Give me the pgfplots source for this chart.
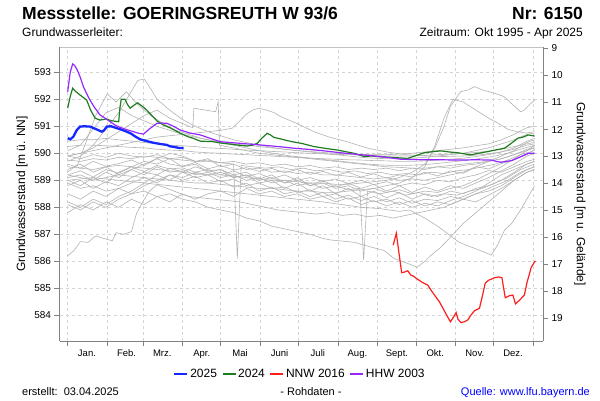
\documentclass[border=0pt]{standalone}
\usepackage{fontspec}
\setmainfont{Liberation Sans}
\usepackage{pgfplots}
\pgfplotsset{compat=1.18}
\definecolor{cA}{RGB}{20,40,255}
\definecolor{cB}{RGB}{30,125,30}
\definecolor{cN}{RGB}{255,30,30}
\definecolor{cH}{RGB}{150,40,255}
\definecolor{cgray}{RGB}{178,178,178}
\definecolor{cgrid}{RGB}{212,212,212}
\definecolor{caxis}{RGB}{130,130,130}
\definecolor{ctop}{RGB}{195,195,195}
\definecolor{csrc}{RGB}{0,0,255}
\begin{document}
\begin{tikzpicture}[x=1pt,y=1pt]
\useasboundingbox (0,0) rectangle (600,400);
\node[anchor=base west,inner sep=0,font=\fontsize{17.5}{20}\selectfont\bfseries] at (22,380.5) {Messstelle: GOERINGSREUTH W 93/6};
\node[anchor=base east,inner sep=0,font=\fontsize{17.5}{20}\selectfont\bfseries] at (583,380.5) {Nr: 6150};
\node[anchor=base west,inner sep=0,font=\fontsize{12}{14}\selectfont] at (22,363) {Grundwasserleiter:};
\node[anchor=base east,inner sep=0,font=\fontsize{12}{14}\selectfont] at (583,363) {Zeitraum: Okt 1995 - Apr 2025};
\node[anchor=base west,inner sep=0,font=\fontsize{11}{13}\selectfont] at (22,5) {erstellt:\ \ 03.04.2025};
\node[anchor=base,inner sep=0,font=\fontsize{11}{13}\selectfont] at (311,5) {- Rohdaten -};
\node[anchor=base east,inner sep=0,font=\fontsize{11}{13}\selectfont,text=csrc] at (590,5) {Quelle: www.lfu.bayern.de};

\begin{axis}[
  at={(59.5pt,59pt)}, anchor=south west, scale only axis,
  width=483.5pt, height=294pt,
  xmin=-6.4, xmax=372.6, ymin=583.048, ymax=593.937,
  axis x line*=bottom, axis y line*=left,
  axis line style={draw=caxis,line width=0.9pt,-},
  every outer x axis line/.append style={-},
  every outer y axis line/.append style={-},
  tick align=outside, major tick length=5pt,
  tick style={draw=caxis,line width=0.8pt},
  xtick={0,31,59,90,120,151,181,212,243,273,304,334,365},
  xticklabels={Jan.,Feb.,Mrz.,Apr.,Mai,Juni,Juli,Aug.,Sept.,Okt.,Nov.,Dez.,{}},
  x tick label style={xshift=19.3pt,font=\fontsize{9.5}{11}\selectfont},
  ytick={584,585,...,593},
  y tick label style={font=\fontsize{10}{12}\selectfont},
  /pgf/number format/assume math mode=true,
  /pgf/number format/1000 sep={},
  xmajorgrids, ymajorgrids,
  major grid style={cgrid,dash pattern=on 3pt off 3pt,line width=0.7pt},
  ylabel={Grundwasserstand [m ü. NN]},
  ylabel style={font=\fontsize{12}{14}\selectfont,at={(axis description cs:-0.0776,0.5)},anchor=center},
  legend columns=4,
  legend style={at={(axis description cs:0.497,-0.112)},anchor=center,draw=none,fill=none,
    font=\fontsize{12}{14}\selectfont,
    /tikz/every even column/.append style={column sep=3pt},
    nodes={inner sep=2pt}},
  legend image code/.code={\draw[#1] (0pt,0pt) -- (13pt,0pt);},
]
% gray historic years
\addplot[cgray,line width=0.6pt,forget plot] coordinates {(0,590.45)(10,590.5)(20,590.5)(30,590.55)(40,590.5)(50,590.45)(60,590.4)(70,590.35)(80,590.3)(90,590.28)(100,590.25)(110,590.2)(120,590.18)(130,590.15)(140,590.12)(150,590.1)(160,590.07)(170,590.05)(180,590.02)(190,590.0)(200,589.98)(210,589.96)(220,589.95)(230,589.93)(240,589.92)(250,589.9)(260,589.9)(270,589.9)(280,589.92)(290,589.95)(300,589.97)(310,590.0)(320,590.03)(330,590.08)(340,590.15)(350,590.25)(360,590.35)(366,590.4)};
\addplot[cgray,line width=0.6pt,forget plot] coordinates {(0,590.25)(10,590.3)(20,590.3)(30,590.28)(40,590.25)(50,590.22)(60,590.2)(70,590.15)(80,590.12)(90,590.1)(100,590.05)(110,590.02)(120,590.0)(130,589.97)(140,589.95)(150,589.92)(160,589.9)(170,589.87)(180,589.85)(190,589.82)(200,589.8)(210,589.78)(220,589.76)(230,589.75)(240,589.73)(250,589.72)(260,589.7)(270,589.7)(280,589.72)(290,589.75)(300,589.78)(310,589.82)(320,589.88)(330,589.95)(340,590.05)(350,590.2)(360,590.45)(366,590.55)};
\addplot[cgray,line width=0.6pt,forget plot] coordinates {(0,590.1)(10,590.3)(20,590.9)(30,591.5)(40,591.7)(50,591.4)(60,591.2)(70,591.0)(80,590.85)(90,590.7)(100,590.6)(110,590.5)(120,590.42)(130,590.35)(140,590.3)(150,590.25)(160,590.2)(170,590.15)(180,590.1)(190,590.07)(200,590.03)(210,590.0)(220,589.98)(230,589.96)(240,589.95)(250,589.95)(260,589.97)(270,590.0)(280,590.05)(290,590.1)(300,590.15)(310,590.2)(320,590.28)(330,590.35)(340,590.5)(350,590.7)(360,590.95)(366,591.0)};
\addplot[cgray,line width=0.6pt,forget plot] coordinates {(0,589.7)(10,589.9)(20,590.3)(30,590.9)(40,591.5)(50,592.3)(55,592.7)(60,592.75)(65,592.4)(70,592.0)(80,591.6)(90,591.25)(100,591.0)(110,590.8)(120,590.65)(130,590.5)(140,590.4)(150,590.3)(160,590.22)(170,590.15)(180,590.1)(190,590.05)(200,590.0)(210,589.95)(220,589.9)(230,589.85)(240,589.82)(250,589.8)(260,589.8)(270,589.82)(280,589.85)(290,589.9)(300,589.95)(310,590.0)(320,590.1)(330,590.2)(340,590.35)(350,590.5)(360,590.7)(366,590.75)};
\addplot[cgray,line width=0.6pt,forget plot] coordinates {(0,589.3)(8,589.6)(15,590.5)(22,591.4)(31,592.2)(38,591.9)(46,592.28)(55,591.8)(65,591.4)(75,591.1)(85,590.85)(95,590.7)(105,590.55)(115,590.45)(125,590.35)(135,590.25)(145,590.15)(155,590.05)(165,589.97)(175,589.9)(185,589.85)(195,589.8)(205,589.75)(215,589.7)(225,589.65)(235,589.6)(245,589.57)(255,589.55)(265,589.55)(275,589.57)(285,589.6)(295,589.65)(305,589.7)(315,589.75)(325,589.82)(335,589.9)(345,590.0)(355,590.15)(366,590.3)};
\addplot[cgray,line width=0.6pt,forget plot] coordinates {(0,589.9)(10,590.0)(20,590.2)(30,590.5)(40,590.8)(50,591.1)(60,591.4)(70,591.6)(80,591.3)(90,591.1)(98,590.95)(99,591.67)(108,591.6)(116,591.54)(118,591.91)(119,590.3)(130,590.2)(140,590.1)(150,590.0)(160,589.95)(170,589.9)(180,589.85)(190,589.8)(200,589.75)(210,589.7)(220,589.65)(230,589.6)(240,589.55)(250,589.5)(260,589.48)(270,589.45)(280,589.45)(290,589.5)(300,589.55)(310,589.6)(320,589.65)(330,589.7)(340,589.8)(350,589.95)(360,590.1)(366,590.2)};
\addplot[cgray,line width=0.6pt,forget plot] coordinates {(0,589.9)(10,590.0)(20,590.1)(30,590.2)(40,590.3)(50,590.4)(60,590.5)(70,590.6)(80,590.65)(90,590.7)(100,590.75)(110,590.8)(120,590.85)(129,590.93)(135,591.2)(140,591.45)(145,591.6)(150,591.67)(156,591.6)(162,591.5)(167,591.36)(180,591.1)(193,590.8)(205,590.6)(219,590.43)(235,590.19)(250,590.05)(265,589.95)(280,589.9)(295,589.88)(310,589.9)(325,589.95)(340,590.05)(350,590.15)(360,590.3)(366,590.35)};
\addplot[cgray,line width=0.6pt,forget plot] coordinates {(0,589.5)(10,589.45)(20,589.4)(30,589.5)(40,589.55)(50,589.5)(60,589.45)(70,589.4)(80,589.35)(90,589.3)(100,589.25)(110,589.2)(120,589.2)(130,589.15)(140,589.1)(150,589.05)(160,589.0)(170,589.0)(180,588.95)(190,588.9)(200,588.9)(210,588.85)(220,588.85)(230,588.9)(240,588.95)(250,589.0)(260,589.1)(270,589.3)(280,589.6)(288,590.2)(295,591.0)(300,591.73)(308,592.28)(314,592.35)(319,592.47)(325,592.35)(335,592.22)(342,592.1)(350,591.75)(355,591.54)(358,591.6)(362,591.8)(366,591.97)};
\addplot[cgray,line width=0.6pt,forget plot] coordinates {(0,589.2)(10,589.1)(20,589.0)(30,589.1)(40,589.2)(50,589.15)(60,589.1)(70,589.05)(80,589.0)(90,588.95)(100,588.9)(110,588.9)(120,588.85)(130,588.8)(140,588.75)(150,588.7)(160,588.7)(170,588.65)(180,588.6)(190,588.6)(200,588.55)(210,588.55)(220,588.6)(230,588.65)(240,588.7)(250,588.8)(260,588.9)(270,589.1)(280,589.5)(288,590.3)(295,591.3)(302,592.0)(310,591.9)(320,591.6)(330,591.3)(338,591.1)(345,590.89)(352,590.8)(360,590.75)(366,590.8)};
\addplot[cgray,line width=0.6pt,forget plot] coordinates {(0,589.6)(10,589.45)(20,589.7)(30,589.52)(40,589.62)(50,589.75)(60,589.55)(70,589.8)(80,589.6)(90,589.52)(100,589.66)(110,589.42)(120,589.55)(130,589.38)(140,589.47)(150,589.33)(160,589.44)(170,589.28)(180,589.4)(190,589.22)(200,589.33)(210,589.18)(220,589.3)(230,589.12)(240,589.24)(250,589.08)(260,589.2)(270,589.12)(280,589.3)(290,589.16)(300,589.35)(310,589.26)(320,589.5)(330,589.42)(340,589.62)(350,589.76)(360,589.95)(366,590.15)};
\addplot[cgray,line width=0.6pt,forget plot] coordinates {(0,589.2)(10,589.35)(20,589.12)(30,589.4)(40,589.26)(50,589.5)(60,589.32)(70,589.55)(80,589.42)(90,589.46)(100,589.3)(110,589.4)(120,589.2)(130,589.35)(140,589.15)(150,589.25)(160,589.06)(170,589.2)(180,589.0)(190,589.1)(200,588.95)(210,589.05)(220,588.88)(230,589.0)(240,588.84)(250,588.95)(260,588.8)(270,588.9)(280,588.84)(290,589.0)(300,588.94)(310,589.1)(320,589.2)(330,589.36)(340,589.3)(350,589.5)(360,589.7)(366,589.78)};
\addplot[cgray,line width=0.6pt,forget plot] coordinates {(0,589.9)(10,589.8)(20,589.95)(30,589.85)(40,590.0)(50,589.9)(60,589.85)(70,589.95)(80,589.8)(90,589.85)(100,589.7)(110,589.75)(120,589.65)(130,589.7)(140,589.6)(150,589.65)(160,589.55)(170,589.6)(180,589.5)(190,589.55)(200,589.45)(210,589.5)(220,589.4)(230,589.45)(240,589.4)(250,589.45)(260,589.35)(270,589.45)(280,589.4)(290,589.5)(300,589.45)(310,589.55)(320,589.6)(330,589.7)(340,589.8)(350,589.95)(360,590.15)(366,590.2)};
\addplot[cgray,line width=0.6pt,forget plot] coordinates {(0,589.0)(10,588.8)(20,589.1)(30,588.9)(40,589.3)(50,589.5)(60,589.7)(70,589.6)(80,589.8)(90,589.5)(100,589.6)(110,589.3)(120,589.4)(130,589.1)(140,589.2)(150,588.9)(160,589.0)(170,588.7)(180,588.9)(190,588.6)(200,588.8)(210,588.5)(220,588.7)(230,588.4)(240,588.6)(250,588.35)(260,588.55)(270,588.3)(280,588.5)(290,588.4)(300,588.6)(310,588.5)(320,588.7)(330,588.8)(340,589.0)(350,589.3)(360,589.6)(366,589.7)};
\addplot[cgray,line width=0.6pt,forget plot] coordinates {(0,588.5)(10,588.3)(20,588.6)(30,588.4)(40,588.7)(50,588.9)(60,589.1)(70,588.9)(80,589.2)(90,589.0)(100,589.15)(110,588.9)(120,589.0)(130,588.75)(140,588.9)(150,588.6)(160,588.75)(170,588.5)(180,588.6)(190,588.4)(200,588.55)(210,588.3)(220,588.45)(230,588.25)(240,588.4)(250,588.2)(260,588.35)(270,588.15)(280,588.3)(290,588.25)(300,588.4)(310,588.3)(320,588.5)(330,588.6)(340,588.8)(350,589.1)(360,589.4)(366,589.5)};
\addplot[cgray,line width=0.6pt,forget plot] coordinates {(0,589.4)(10,589.6)(20,589.3)(30,589.5)(40,589.2)(50,589.4)(60,589.6)(70,589.8)(80,590.0)(90,589.9)(100,589.7)(110,589.8)(120,589.5)(130,589.6)(140,589.4)(150,589.45)(160,589.3)(170,589.35)(180,589.25)(190,589.3)(200,589.2)(210,589.2)(220,589.15)(230,589.1)(240,589.05)(250,589.1)(260,589.0)(270,589.05)(280,589.0)(290,589.1)(300,589.2)(310,589.3)(320,589.5)(330,589.7)(340,589.9)(350,590.1)(360,590.4)(366,590.5)};
\addplot[cgray,line width=0.6pt,forget plot] coordinates {(0,588.2)(10,588.0)(20,588.3)(30,588.1)(40,588.4)(50,588.6)(60,588.9)(70,589.2)(80,589.0)(90,589.3)(100,589.1)(110,589.2)(120,588.95)(130,589.05)(140,588.8)(150,588.9)(160,588.7)(170,588.75)(180,588.55)(190,588.65)(200,588.4)(210,588.5)(220,588.3)(230,588.4)(240,588.2)(250,588.3)(260,588.1)(270,588.25)(280,588.05)(290,588.2)(300,588.1)(310,588.3)(320,588.2)(330,588.45)(340,588.7)(350,589.0)(360,589.3)(366,589.4)};
\addplot[cgray,line width=0.6pt,forget plot] coordinates {(0,587.8)(10,588.1)(20,587.9)(30,588.2)(40,588.0)(50,588.3)(60,588.1)(70,588.4)(80,588.2)(90,588.5)(100,588.3)(110,588.5)(120,588.6)(130,588.4)(140,588.7)(150,588.5)(160,588.6)(170,588.4)(180,588.5)(190,588.3)(200,588.4)(210,588.2)(220,588.35)(230,588.1)(240,588.25)(250,588.05)(260,588.2)(270,588.0)(280,588.15)(290,588.05)(300,588.25)(310,588.4)(320,588.6)(330,588.9)(340,589.2)(350,589.4)(360,589.6)(366,589.7)};
\addplot[cgray,line width=0.6pt,forget plot] coordinates {(0,586.2)(5,586.4)(10,586.73)(16,586.7)(22,586.94)(28,586.85)(35,586.76)(38,587.06)(44,587.0)(50,587.1)(54,587.78)(59,588.21)(64,588.6)(70,588.83)(78,588.7)(86,588.55)(95,588.4)(105,588.35)(115,588.3)(125,588.25)(135,588.2)(145,588.1)(155,588.0)(165,587.9)(175,587.85)(185,587.8)(195,587.75)(205,587.8)(215,587.7)(225,587.75)(235,587.65)(245,587.7)(255,587.6)(265,587.7)(275,587.8)(285,587.9)(295,588.0)(305,588.2)(315,588.4)(325,588.6)(335,588.8)(345,589.0)(355,589.3)(366,589.5)};
\addplot[cgray,line width=0.6pt,forget plot] coordinates {(0,588.9)(10,588.7)(20,588.8)(30,588.6)(40,588.7)(50,588.5)(60,588.6)(70,588.4)(80,588.5)(90,588.3)(100,588.2)(110,588.0)(120,587.9)(130,587.8)(140,587.6)(150,587.5)(160,587.3)(170,587.2)(180,587.1)(190,587.0)(200,586.85)(206,586.79)(215,586.75)(225,586.7)(232,586.6)(240,586.5)(248,586.4)(256,586.1)(265,585.95)(274,585.78)(280,586.0)(285,586.23)(292,586.5)(298,586.79)(303,587.04)(310,587.4)(320,587.8)(330,588.2)(340,588.6)(350,589.0)(360,589.3)(366,589.4)};
\addplot[cgray,line width=0.6pt,forget plot] coordinates {(0,589.0)(20,589.1)(40,589.0)(60,588.9)(80,588.8)(100,588.7)(120,588.6)(140,588.5)(160,588.4)(180,588.3)(200,588.2)(215,588.1)(230,588.0)(245,587.95)(260,587.85)(268,587.9)(280,587.6)(290,587.3)(300,586.95)(306,586.73)(312,586.6)(319,586.48)(326,586.35)(332,586.23)(337,586.6)(342.5,587.16)(348,587.4)(355,587.9)(362.6,588.52)(366,588.8)};
\addplot[cgray,line width=0.6pt,forget plot] coordinates {(0,589.75)(10,589.7)(20,589.8)(30,589.75)(40,589.85)(50,589.8)(60,589.9)(70,589.85)(80,589.8)(90,589.75)(100,589.7)(110,589.7)(120,589.65)(130,589.6)(133,586.1)(136,589.55)(145,589.5)(155,589.45)(165,589.5)(175,589.4)(185,589.45)(195,589.35)(205,589.4)(215,589.3)(225,589.35)(235,589.25)(245,589.3)(255,589.2)(265,589.25)(275,589.2)(285,589.3)(295,589.25)(305,589.35)(315,589.4)(325,589.5)(335,589.6)(345,589.75)(355,589.95)(366,590.1)};
\addplot[cgray,line width=0.6pt,forget plot] coordinates {(0,589.1)(10,589.2)(20,589.0)(30,589.3)(40,589.1)(50,589.4)(60,589.2)(70,589.5)(80,589.3)(90,589.4)(100,589.2)(110,589.3)(120,589.1)(130,589.2)(140,589.0)(150,589.1)(160,588.9)(170,589.0)(180,588.8)(190,588.9)(200,588.7)(210,588.8)(220,588.65)(229,588.7)(232,586.05)(235,588.6)(245,588.5)(255,588.6)(265,588.45)(275,588.55)(285,588.4)(295,588.5)(305,588.45)(315,588.6)(325,588.7)(335,588.9)(345,589.1)(355,589.4)(366,589.6)};
\addplot[cgray,line width=0.6pt,forget plot] coordinates {(0,588.8)(10,589.0)(20,588.7)(30,588.95)(40,588.8)(50,589.1)(60,589.3)(70,589.2)(80,589.45)(90,589.3)(100,589.5)(110,589.35)(120,589.4)(130,589.2)(140,589.3)(150,589.05)(160,589.2)(170,588.9)(180,589.1)(190,588.8)(200,589.0)(210,588.75)(220,588.9)(230,588.7)(240,588.85)(250,588.6)(260,588.8)(270,588.55)(280,588.75)(290,588.6)(300,588.8)(310,588.7)(320,588.9)(330,589.1)(340,589.35)(350,589.6)(360,589.9)(366,590.0)};
\addplot[cgray,line width=0.6pt,forget plot] coordinates {(0,588.1)(10,587.9)(20,588.2)(30,588.0)(40,588.3)(50,588.5)(60,588.8)(70,589.0)(80,589.2)(90,589.1)(100,589.3)(110,589.2)(120,589.3)(130,589.1)(140,589.2)(150,589.0)(160,589.1)(170,588.9)(180,589.0)(190,588.8)(200,588.9)(210,588.7)(220,588.8)(230,588.6)(240,588.7)(250,588.55)(260,588.65)(270,588.5)(280,588.6)(290,588.55)(300,588.7)(310,588.8)(320,589.0)(330,589.25)(340,589.5)(350,589.8)(360,590.1)(366,590.3)};
% highlighted series
\addplot[cA,line width=2.3pt] coordinates {(0,590.56)(2,590.52)(4.4,590.61)(7,590.85)(9.7,590.99)(13,591.0)(17.5,590.99)(22,590.9)(26.7,590.8)(28.5,590.85)(30.7,590.99)(34,591.0)(38.5,590.93)(42,590.88)(46.4,590.8)(50,590.72)(53,590.62)(56.8,590.52)(62,590.45)(67.3,590.39)(72,590.35)(77.8,590.31)(80,590.26)(83,590.24)(87,590.2)(90.9,590.19)};
\addlegendentry{2025}
\addplot[cB,line width=1.2pt] coordinates {(0,591.67)(2,592.1)(3.9,592.41)(6,592.3)(9.7,592.16)(14.9,591.97)(18,591.6)(21.5,591.3)(25.4,591.23)(30,591.27)(35,591.2)(40,591.17)(41,591.7)(42,592.0)(45,592.0)(47,591.8)(49,591.67)(52,591.78)(54.7,591.87)(58,591.76)(62,591.6)(66,591.4)(70,591.2)(75,591.05)(80,590.95)(88,590.75)(94,590.62)(98.7,590.55)(104,590.45)(114,590.43)(120,590.38)(127.6,590.34)(134,590.3)(140.7,590.27)(145,590.3)(148.6,590.37)(152,590.55)(156.4,590.74)(159,590.68)(161.6,590.59)(168,590.52)(174.8,590.44)(184,590.36)(193,590.25)(201,590.19)(211.5,590.12)(218,590.06)(224.5,590.0)(232.4,589.88)(238,589.9)(245,589.87)(253.4,589.85)(260,589.83)(266.5,589.81)(272,589.9)(279.6,590.02)(286,590.06)(292.7,590.09)(299,590.05)(305.8,590.02)(311,589.98)(316,589.94)(322,590.0)(329,590.06)(335,590.12)(342.5,590.19)(348,590.38)(353,590.56)(357,590.6)(361,590.68)(366,590.64)};
\addlegendentry{2024}
\addplot[cN,line width=1.2pt] coordinates {(255.2,586.60)(257.6,587.04)(261.8,585.58)(264,585.6)(266.5,585.65)(269,585.49)(271,585.45)(274.4,585.33)(278,585.22)(282.2,585.12)(286,584.85)(291.4,584.50)(296,584.1)(300,583.76)(302,583.9)(304.5,584.10)(306,583.85)(308.4,583.73)(311,583.76)(313.7,583.83)(316,584.0)(318.9,584.17)(322.8,584.26)(325,584.7)(327.3,585.19)(330,585.3)(334.6,585.39)(338,585.42)(340.4,585.39)(343,584.65)(346,584.72)(349,584.75)(351,584.42)(354,584.55)(358,584.75)(360,585.2)(363.4,585.78)(366.6,586.02)};
\addlegendentry{NNW 2016}
\addplot[cH,line width=1.2pt] coordinates {(0,592.28)(2,593.0)(3.9,593.31)(5.5,593.25)(7.5,593.09)(10,592.8)(12.3,592.47)(15,592.2)(17.5,591.97)(21,591.7)(25.4,591.42)(30,591.28)(33.3,591.17)(37,591.05)(41.1,590.96)(46,590.88)(51.6,590.8)(55,590.75)(59.4,590.71)(64,590.9)(70,591.11)(74,591.12)(77.8,591.11)(83,591.0)(88.3,590.86)(96,590.75)(104,590.68)(112,590.55)(119.7,590.43)(130,590.39)(140,590.35)(151,590.31)(165,590.25)(177,590.19)(190,590.14)(201,590.09)(214,590.02)(227,589.96)(240,589.9)(252,589.84)(261,589.78)(270,589.77)(280,589.76)(292,589.76)(305.8,589.75)(320,589.76)(332,589.75)(336,589.7)(340,589.67)(344,589.7)(348,589.73)(354,589.85)(361,590.0)(366,590.0)};
\addlegendentry{HHW 2003}
\end{axis}

\begin{axis}[
  at={(59.5pt,59pt)}, anchor=south west, scale only axis,
  width=483.5pt, height=294pt,
  xmin=0, xmax=1, ymin=8.943, ymax=19.832, y dir=reverse,
  hide x axis, axis y line*=right,
  axis line style={draw=caxis,line width=0.9pt,-},
  every outer y axis line/.append style={-},
  tick align=outside, major tick length=5pt,
  tick style={draw=caxis,line width=0.8pt},
  ytick={9,10,...,19},
  y tick label style={font=\fontsize{10}{12}\selectfont},
  /pgf/number format/assume math mode=true,
  ylabel={Grundwasserstand [m u. Gelände]},
  ylabel style={font=\fontsize{12}{14}\selectfont,at={(axis description cs:1.0765,0.5)},anchor=center,rotate=180},
]
\end{axis}
\draw[ctop,line width=0.9pt] (59.5,353) -- (543,353);
\end{tikzpicture}
\end{document}
